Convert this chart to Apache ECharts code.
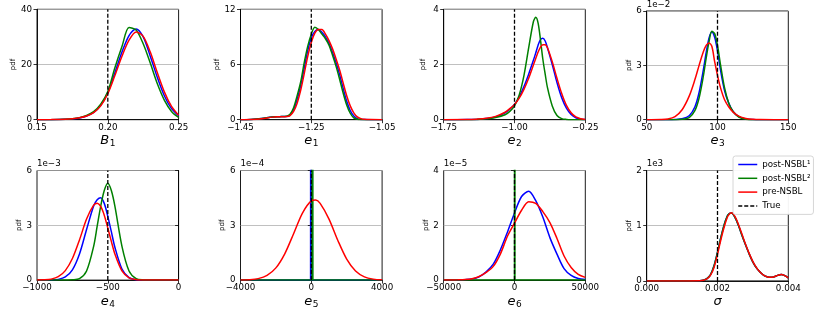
<!DOCTYPE html>
<html><head><meta charset="utf-8">
<script src="https://cdn.jsdelivr.net/npm/echarts@6/dist/echarts.min.js"></script>
<style>html,body{margin:0;padding:0;background:#fff}#c{width:822px;height:310px}</style>
</head><body><div id="c"></div>
<script>
// ---------------- DATA ----------------
const seriesNames = ['post-NSBL\u00b9', 'post-NSBL\u00b2', 'pre-NSBL', 'True'];

// Panel 1: B1
const b1X     = [0.15,0.16,0.17,0.175,0.18,0.185,0.19,0.195,0.2,0.205,0.21,0.215,0.22,0.225,0.23,0.235,0.24,0.245,0.25];
const b1Blue  = [0,0.02,0.12,0.3,0.65,1.3,2.6,5.2,9.8,17,24.5,30.5,32.9,30,23,15.3,8.6,4,1.5];
const b1Green = [0,0.02,0.15,0.35,0.75,1.5,2.9,5.6,10.2,18.8,26.5,33.4,32.5,27.5,20.5,13,7,3,0.8];
const b1Red   = [0,0.03,0.15,0.35,0.7,1.35,2.6,5,9.4,16,23,28.8,31.8,30.2,24.5,17,10,4.8,1.6];
const b1True = 0.2;
const b1XTicks = ['0.15','0.20','0.25'];
const b1YTicks = ['0','20','40'];

// Panel 2: e1
const e1X     = [-1.45,-1.42,-1.39,-1.36,-1.34,-1.32,-1.31,-1.30,-1.29,-1.28,-1.27,-1.26,-1.25,-1.24,-1.23,-1.22,-1.21,-1.20,-1.19,-1.18,-1.17,-1.16,-1.15,-1.14,-1.13,-1.12,-1.11,-1.10,-1.08,-1.05];
const e1Blue  = [0,0.02,0.12,0.3,0.33,0.36,0.5,1.1,2.2,3.7,5.6,7.5,8.9,9.6,9.8,9.5,9.0,8.3,7.3,6.2,4.9,3.4,2.0,1.0,0.4,0.12,0.03,0.01,0,0];
const e1Green = [0,0.02,0.12,0.3,0.33,0.38,0.6,1.3,2.6,4.1,6.2,8.0,9.3,10.05,9.8,9.3,8.8,8.1,7.0,5.8,4.4,2.9,1.6,0.7,0.2,0.05,0.01,0,0,0];
const e1Red   = [0,0.02,0.1,0.28,0.32,0.35,0.45,0.9,1.8,3.2,5.0,6.9,8.4,9.4,9.8,9.8,9.3,8.6,7.7,6.6,5.4,4.0,2.6,1.5,0.75,0.3,0.12,0.04,0.01,0];
const e1True = -1.25;
const e1XTicks = ['\u22121.45','\u22121.25','\u22121.05'];
const e1YTicks = ['0','6','12'];

// Panel 3: e2
const e2X     = [-1.75,-1.5,-1.4,-1.3,-1.2,-1.1,-1.05,-1.0,-0.95,-0.9,-0.85,-0.8,-0.775,-0.75,-0.725,-0.7,-0.675,-0.65,-0.6,-0.55,-0.5,-0.45,-0.4,-0.35,-0.3,-0.25];
const e2Blue  = [0,0.005,0.01,0.04,0.1,0.25,0.38,0.55,0.83,1.2,1.65,2.15,2.42,2.7,2.9,2.95,2.85,2.6,2.0,1.35,0.8,0.42,0.19,0.07,0.02,0.005];
const e2Green = [0,0,0.01,0.03,0.08,0.18,0.3,0.5,0.9,1.6,2.6,3.55,3.71,3.5,2.9,2.2,1.65,1.15,0.5,0.15,0.04,0.01,0,0,0,0];
const e2Red   = [0,0.005,0.02,0.05,0.12,0.27,0.4,0.55,0.78,1.1,1.5,1.98,2.22,2.45,2.63,2.72,2.72,2.6,2.1,1.5,0.95,0.52,0.25,0.1,0.035,0.01];
const e2True = -1.0;
const e2XTicks = ['\u22121.75','\u22121.00','\u22120.25'];
const e2YTicks = ['0','2','4'];

// Panel 4: e3  (pdf in units of 1e-2)
const e3X     = [50,60,65,70,75,80,84,87,90,92,94,96,98,100,102,105,108,111,115,120,125,130,140,150];
const e3Blue  = [0,0,0,0.01,0.05,0.22,0.7,1.5,2.75,3.7,4.5,4.84,4.55,3.8,2.8,1.6,0.9,0.45,0.17,0.04,0.01,0,0,0];
const e3Green = [0,0,0,0,0.02,0.12,0.5,1.2,2.4,3.4,4.3,4.88,4.75,4.1,3.1,1.75,0.9,0.45,0.15,0.03,0,0,0,0];
const e3Red   = [0,0.01,0.04,0.17,0.55,1.3,2.2,3.0,3.75,4.1,4.24,4.05,3.2,2.45,1.8,1.1,0.7,0.42,0.2,0.07,0.02,0.005,0,0];
const e3True = 100;
const e3XTicks = ['50','100','150'];
const e3YTicks = ['0','3','6'];

// Panel 5: e4  (pdf in units of 1e-3)
const e4X     = [-1000,-950,-900,-850,-800,-750,-700,-650,-600,-575,-550,-525,-500,-475,-450,-400,-350,-300,-250,-200,-100,0];
const e4Blue  = [0,0.002,0.007,0.04,0.17,0.56,1.43,2.77,4.06,4.4,4.51,4.2,3.49,2.65,1.8,0.61,0.14,0.02,0,0,0,0];
const e4Green = [0,0,0,0,0.01,0.02,0.08,0.5,1.85,2.95,4.05,4.9,5.3,4.9,4.05,1.85,0.5,0.08,0.01,0,0,0];
const e4Red   = [0.002,0.013,0.054,0.185,0.52,1.18,2.2,3.34,4.1,4.21,4.03,3.55,2.85,2.12,1.43,0.5,0.127,0.023,0.003,0,0,0];
const e4True = -500;
const e4XTicks = ['\u22121000','\u2212500','0'];
const e4YTicks = ['0','3','6'];

// Panel 6: e5  (pdf in units of 1e-4); post-NSBL curves are extremely narrow spikes
const e5X      = [-4000,-3500,-3000,-2500,-2000,-1500,-1000,-500,0,250,500,1000,1500,2000,2500,3000,3500,4000];
const e5Red    = [0.004,0.02,0.08,0.26,0.67,1.44,2.54,3.67,4.34,4.38,4.2,3.34,2.17,1.15,0.5,0.18,0.053,0.013];
const e5BlueX  = [-4000,-40,-20,0,4000];
const e5Blue   = [0,0,60,0,0];
const e5GreenX = [-4000,40,65,90,4000];
const e5Green  = [0,0,60,0,0];
const e5True = 0;
const e5XTicks = ['\u22124000','0','4000'];
const e5YTicks = ['0','3','6'];

// Panel 7: e6  (pdf in units of 1e-5)
const e6X      = [-50000,-45000,-40000,-35000,-30000,-25000,-20000,-15000,-10000,-5000,0,5000,10000,15000,20000,25000,30000,35000,40000,45000,50000];
const e6Blue   = [0,0.002,0.005,0.015,0.04,0.12,0.3,0.58,1.1,1.75,2.45,3.05,3.24,2.9,2.3,1.55,0.95,0.42,0.17,0.06,0.02];
const e6Red    = [0,0.005,0.01,0.02,0.05,0.13,0.28,0.5,0.95,1.6,2.08,2.55,2.86,2.8,2.5,2.1,1.52,0.88,0.46,0.21,0.1];
const e6GreenX = [-50000,0,150,300,50000];
const e6Green  = [0,0,40,0,0];
const e6True = 0;
const e6XTicks = ['\u221250000','0','50000'];
const e6YTicks = ['0','2','4'];

// Panel 8: sigma  (pdf in units of 1e3)
const sgX     = [0,0.0005,0.001,0.0015,0.0016,0.0017,0.0018,0.0019,0.002,0.0021,0.0022,0.0023,0.0024,0.0025,0.0026,0.0027,0.0028,0.0029,0.003,0.0031,0.0032,0.0033,0.0034,0.0035,0.0036,0.0037,0.0038,0.0039,0.004];
const sgBlue  = [0,0,0,0.004,0.012,0.04,0.11,0.27,0.52,0.8,1.04,1.2,1.23,1.14,0.99,0.81,0.64,0.48,0.34,0.235,0.16,0.105,0.075,0.065,0.075,0.1,0.115,0.095,0.055];
const sgGreen = [0,0,0,0.004,0.012,0.04,0.11,0.27,0.52,0.8,1.04,1.2,1.23,1.14,0.99,0.81,0.64,0.48,0.34,0.235,0.16,0.105,0.075,0.065,0.075,0.1,0.115,0.095,0.055];
const sgRed   = [0,0,0,0.003,0.01,0.035,0.1,0.24,0.48,0.76,1.0,1.18,1.235,1.16,1.01,0.83,0.65,0.49,0.35,0.24,0.16,0.105,0.075,0.065,0.075,0.1,0.115,0.095,0.055];
const sgTrue = 0.002;
const sgXTicks = ['0.000','0.002','0.004'];
const sgYTicks = ['0','1','2'];

// ---------------- LAYOUT / STYLE ----------------
const FONT = 'DejaVu Sans';
const TFS = 8.7;
const BLUE = '#0000ff', GREEN = '#008000', RED = '#ff0000';
const colLeft = [37, 240.5, 443.7, 646.7];
const rowTop = [9.3, 170.5];
const GW = 141.6, GH = 110.4;

const panels = [
  {bx:b1X, b:b1Blue, gx:b1X, g:b1Green, rx:b1X, r:b1Red, x0:0.15, x1:0.25, ym:40, xt:b1XTicks, yt:b1YTicks, sym:'B', sub:'1', tv:b1True, scale:null, pdfGap:19, nameGap:12},
  {bx:e1X, b:e1Blue, gx:e1X, g:e1Green, rx:e1X, r:e1Red, x0:-1.45, x1:-1.05, ym:12, xt:e1XTicks, yt:e1YTicks, sym:'e', sub:'1', tv:e1True, scale:null, pdfGap:17.5, nameGap:14},
  {bx:e2X, b:e2Blue, gx:e2X, g:e2Green, rx:e2X, r:e2Red, x0:-1.75, x1:-0.25, ym:4, xt:e2XTicks, yt:e2YTicks, sym:'e', sub:'2', tv:e2True, scale:null, pdfGap:17, nameGap:14},
  {bx:e3X, b:e3Blue, gx:e3X, g:e3Green, rx:e3X, r:e3Red, x0:50, x1:150, ym:6, xt:e3XTicks, yt:e3YTicks, sym:'e', sub:'3', tv:e3True, scale:'1e\u22122', pdfGap:14, nameGap:14},
  {bx:e4X, b:e4Blue, gx:e4X, g:e4Green, rx:e4X, r:e4Red, x0:-1000, x1:0, ym:6, xt:e4XTicks, yt:e4YTicks, sym:'e', sub:'4', tv:e4True, scale:'1e\u22123', pdfGap:12.5, nameGap:14},
  {bx:e5BlueX, b:e5Blue, gx:e5GreenX, g:e5Green, rx:e5X, r:e5Red, x0:-4000, x1:4000, ym:6, xt:e5XTicks, yt:e5YTicks, sym:'e', sub:'5', tv:e5True, scale:'1e\u22124', pdfGap:14, nameGap:14},
  {bx:e6X, b:e6Blue, gx:e6GreenX, g:e6Green, rx:e6X, r:e6Red, x0:-50000, x1:50000, ym:4, xt:e6XTicks, yt:e6YTicks, sym:'e', sub:'6', tv:e6True, scale:'1e\u22125', pdfGap:12.5, nameGap:14},
  {bx:sgX, b:sgBlue, gx:sgX, g:sgGreen, rx:sgX, r:sgRed, x0:0, x1:0.004, ym:2, xt:sgXTicks, yt:sgYTicks, sym:'\u03c3', sub:'', tv:sgTrue, scale:'1e3', pdfGap:13, nameGap:14}
];

const grids = [], xAxes = [], yAxes = [], series = [];
const zip = (xs, ys) => xs.map((x, i) => [x, ys[i]]);
const DASH = [4, 2];

panels.forEach((p, k) => {
  const row = Math.floor(k / 4), col = k % 4;
  grids.push({left: colLeft[col], top: rowTop[row], width: GW, height: GH, containLabel: false,
    show: true, borderColor: '#000', borderWidth: 0.9, backgroundColor: 'transparent'});
  const xi = (p.x1 - p.x0) / 2, yi = p.ym / 2;
  xAxes.push({
    gridIndex: k, type: 'value', min: p.x0, max: p.x1, interval: xi,
    axisLine: {show: true, onZero: false, lineStyle: {color: '#000', width: 0.9}},
    axisTick: {show: true, length: 3.5, inside: false, lineStyle: {color: '#000', width: 0.8}},
    splitLine: {show: false},
    axisLabel: {show: true, margin: 3.5, color: '#000', fontFamily: FONT, fontSize: TFS,
      formatter: (v) => p.xt[Math.round((v - p.x0) / xi)]},
    name: p.sub ? ('{m|' + p.sym + '}{s|' + p.sub + '}') : ('{m|' + p.sym + '}'),
    nameLocation: 'middle', nameGap: p.nameGap,
    nameTextStyle: {rich: {
      m: {fontFamily: FONT, fontStyle: 'italic', fontSize: 13, lineHeight: 14, verticalAlign: 'top', color: '#000'},
      s: {fontFamily: FONT, fontSize: 9, lineHeight: 9, verticalAlign: 'bottom', padding: [6.5, 0, 0, 0.5], color: '#000'}
    }}
  });
  yAxes.push({
    gridIndex: k, type: 'value', min: 0, max: p.ym, interval: yi,
    axisLine: {show: true, lineStyle: {color: '#000', width: 0.9}},
    axisTick: {show: true, length: 3.5, inside: false, lineStyle: {color: '#000', width: 0.8}},
    splitLine: {show: true, lineStyle: {color: '#b0b0b0', width: 0.8}},
    axisLabel: {show: true, margin: 5, color: '#000', fontFamily: FONT, fontSize: TFS,
      formatter: (v) => p.yt[Math.round(v / yi)]},
    name: 'pdf', nameLocation: 'middle', nameRotate: 90, nameGap: p.pdfGap,
    nameTextStyle: {fontFamily: FONT, fontSize: 7, color: '#000'}
  });
  const yIdx = yAxes.length - 1;
  if (p.scale) {
    yAxes.push({
      gridIndex: k, type: 'value', min: 0, max: p.ym, position: 'left',
      axisLine: {show: false}, axisTick: {show: false}, axisLabel: {show: false}, splitLine: {show: false},
      name: p.scale, nameLocation: 'end', nameGap: 2,
      nameTextStyle: {fontFamily: FONT, fontSize: TFS, color: '#000', align: 'left', verticalAlign: 'bottom'}
    });
  }
  const base = {type: 'line', xAxisIndex: k, yAxisIndex: yIdx, symbol: 'none', showSymbol: false, clip: true, animation: false, silent: true};
  const narrowB = p.bx.length <= 5, narrowG = p.gx.length <= 5;
  series.push(Object.assign({}, base, {name: seriesNames[0], data: zip(p.bx, p.b), smooth: narrowB ? false : 0.3,
    lineStyle: {color: BLUE, width: 1.5}, itemStyle: {color: BLUE}, z: 2}));
  series.push(Object.assign({}, base, {name: seriesNames[1], data: zip(p.gx, p.g), smooth: narrowG ? false : 0.3,
    lineStyle: {color: GREEN, width: 1.5}, itemStyle: {color: GREEN}, z: 3}));
  series.push(Object.assign({}, base, {name: seriesNames[2], data: zip(p.rx, p.r), smooth: 0.3,
    lineStyle: {color: RED, width: 1.5}, itemStyle: {color: RED}, z: 4}));
  // true parameter value: vertical dashed line spanning the y range
  series.push(Object.assign({}, base, {name: seriesNames[3], data: [[p.tv, 0], [p.tv, p.ym]], smooth: false, z: 5,
    lineStyle: {color: '#000', width: 1.3, type: DASH}, itemStyle: {color: '#000'}}));
});

const chart = echarts.init(document.getElementById('c'), null, {renderer: 'canvas'});
chart.setOption({
  animation: false,
  backgroundColor: '#fff',
  grid: grids, xAxis: xAxes, yAxis: yAxes, series: series,
  legend: {
    data: seriesNames, orient: 'vertical', left: 733, top: 156, z: 20,
    itemWidth: 19, itemHeight: 8, itemGap: 4.8, padding: [4, 3, 4, 4.5],
    borderColor: '#cccccc', borderWidth: 0.8, borderRadius: 2.5,
    backgroundColor: 'rgba(255,255,255,0.95)',
    itemStyle: {color: 'transparent', borderColor: 'transparent', borderWidth: 0, opacity: 0},
    lineStyle: {width: 1.5},
    textStyle: {fontFamily: FONT, fontSize: TFS, color: '#000'},
    selectedMode: false
  }
});
</script></body></html>
